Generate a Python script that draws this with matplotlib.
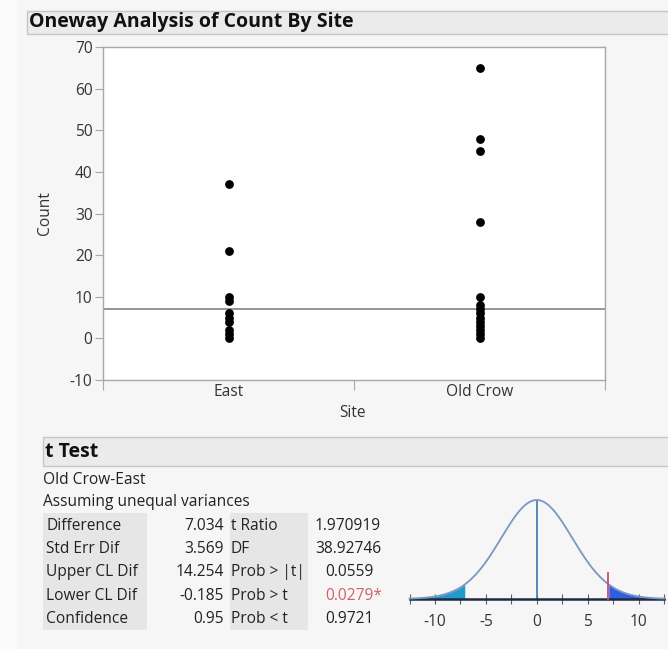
import numpy as np
import matplotlib
matplotlib.use("Agg")
import matplotlib.pyplot as plt
from matplotlib.patches import Rectangle

W, H = 668, 649

# ---------------- data ----------------
sites = ["East", "Old Crow"]
east_counts = [0, 1, 2, 4, 5, 6, 9, 10, 21, 37]
oldcrow_counts = [0, 1, 2, 3, 4, 5, 6, 7, 8, 10, 28, 45, 48, 65]
grand_mean = 7.0
y_ticks = [-10, 0, 10, 20, 30, 40, 50, 60, 70]

title = "Oneway Analysis of Count By Site"
ttest_title = "t Test"
comparison = "Old Crow-East"
assumption = "Assuming unequal variances"
left_labels = ["Difference", "Std Err Dif", "Upper CL Dif", "Lower CL Dif", "Confidence"]
left_values = ["7.034", "3.569", "14.254", "-0.185", "0.95"]
right_labels = ["t Ratio", "DF", "Prob > |t|", "Prob > t", "Prob < t"]
right_values = ["1.970919", "38.92746", "0.0559", "0.0279*", "0.9721"]
difference = 7.034
std_err = 3.569
dof = 38.92746
dist_ticks = [-10, -5, 0, 5, 10]
dist_minor = [-12.5, -7.5, -2.5, 2.5, 7.5, 12.5]

# ---------------- style ----------------
plt.rcParams["font.family"] = ["Open Sans", "DejaVu Sans"]
FS = 11.2
TXT = "#222222"

fig = plt.figure(figsize=(W / 100, H / 100), dpi=100, facecolor="#f6f6f6")


def fx(x):
    return x / W


def fy(y):
    return 1 - y / H


# lighter strip at far left
fig.patches.append(Rectangle((0, 0), fx(18), 1, transform=fig.transFigure,
                             facecolor="#fbfbfb", edgecolor="none", zorder=0))

# title bar
fig.patches.append(Rectangle((fx(27), fy(34)), fx(668) - fx(27) + 0.01, fy(11) - fy(34),
                             transform=fig.transFigure, facecolor="#ebebeb",
                             edgecolor="#c6c6c6", lw=1, zorder=1))
fig.text(fx(29), fy(22.5), title, fontsize=14, fontweight="bold", color="#111111",
         ha="left", va="center")

# ---------------- main plot ----------------
ax = fig.add_axes([fx(103), fy(380), fx(605) - fx(103), fy(47) - fy(380)])
ax.set_facecolor("white")
ax.set_xlim(0, 2)
ax.set_ylim(-10, 70)
xpos = [0.5, 1.5]
ax.scatter([xpos[0]] * len(east_counts), east_counts, s=40, color="black", zorder=3,
           linewidths=0)
ax.scatter([xpos[1]] * len(oldcrow_counts), oldcrow_counts, s=40, color="black", zorder=3,
           linewidths=0)
ax.axhline(grand_mean, color="#8c8c8c", lw=1.3, zorder=2)

for sp in ax.spines.values():
    sp.set_color("#a8a8a8")
    sp.set_linewidth(1)
ax.set_yticks(y_ticks)
ax.set_yticklabels([str(v) for v in y_ticks])
ax.tick_params(axis="y", length=6, width=0.8, color="#a8a8a8", pad=1.5,
               labelsize=FS, labelcolor="#333333")
ax.set_xticks([0, 1, 2])
ax.set_xticklabels([])
ax.set_xticks(xpos, minor=True)
ax.set_xticklabels(sites, minor=True)
ax.tick_params(axis="x", which="major", length=7, width=0.8, color="#a8a8a8")
ax.tick_params(axis="x", which="minor", length=0, pad=3, labelsize=FS,
               labelcolor="#333333")
fig.text(fx(45), fy(213), "Count", rotation=90, fontsize=FS, color="#333333",
         ha="center", va="center")
fig.text(fx(353), fy(413), "Site", fontsize=FS, color="#333333",
         ha="center", va="center")

# ---------------- t Test section ----------------
fig.patches.append(Rectangle((fx(43), fy(466)), fx(668) - fx(43) + 0.01, fy(437) - fy(466),
                             transform=fig.transFigure, facecolor="#ebebeb",
                             edgecolor="#c6c6c6", lw=1, zorder=1))
fig.text(fx(45), fy(452), ttest_title, fontsize=14, fontweight="bold", color="#111111",
         ha="left", va="center")
fig.text(fx(43), fy(480), comparison, fontsize=FS, color=TXT, ha="left", va="center")
fig.text(fx(43), fy(502), assumption, fontsize=FS, color=TXT, ha="left", va="center")

# shaded label columns
for x0, x1 in [(43, 147), (230, 308)]:
    fig.patches.append(Rectangle((fx(x0), fy(630)), fx(x1) - fx(x0), fy(513) - fy(630),
                                 transform=fig.transFigure, facecolor="#e6e6e6",
                                 edgecolor="none", zorder=1))

row_y = [526, 549, 572, 596, 619]
right_x = [315, 315, 325, 325, 325]
for i, yy in enumerate(row_y):
    fig.text(fx(46), fy(yy), left_labels[i], fontsize=FS, color=TXT, ha="left", va="center")
    fig.text(fx(224), fy(yy), left_values[i], fontsize=FS, color=TXT, ha="right", va="center")
    fig.text(fx(231), fy(yy), right_labels[i], fontsize=FS, color=TXT, ha="left", va="center")
    col = "#d0606c" if right_values[i].endswith("*") else TXT
    fig.text(fx(right_x[i]), fy(yy), right_values[i], fontsize=FS, color=col,
             ha="left", va="center")

# ---------------- t distribution ----------------
dax = fig.add_axes([fx(409.5), fy(599), fx(664) - fx(409.5), fy(500) - fy(599)])
dax.patch.set_alpha(0)
dax.set_xlim(-12.5, 12.5)
dax.set_ylim(0, 1)
xs = np.linspace(-12.5, 12.5, 600)
tt = xs / std_err
dens = (1 + tt ** 2 / dof) ** (-(dof + 1) / 2)
dax.plot(xs, dens, color="#7c96c4", lw=1.3, clip_on=False, zorder=3)
left = xs <= -difference
right = xs >= difference
dax.fill_between(xs[left], 0, dens[left], color="#1f9ccc", lw=0, zorder=2)
dax.fill_between(xs[right], 0, dens[right], color="#2f5fe0", lw=0, zorder=2)
dax.plot([0, 0], [0, 1], color="#4f7fae", lw=1.3, zorder=2)
dax.plot([difference, difference], [0, 0.263], color="#d04a6a", lw=1.3, zorder=4,
         clip_on=False)
for sp in ["top", "left", "right"]:
    dax.spines[sp].set_visible(False)
dax.spines["bottom"].set_color("#1c2a44")
dax.spines["bottom"].set_linewidth(1.8)
dax.set_yticks([])
dax.set_xticks(dist_ticks)
dax.set_xticklabels([str(v) for v in dist_ticks])
dax.set_xticks(dist_minor, minor=True)
dax.tick_params(axis="x", which="both", direction="inout", length=7, width=0.8,
                color="#556070", labelsize=FS, labelcolor="#333333", pad=7)

fig.savefig("out.png", dpi=100, facecolor=fig.get_facecolor())
